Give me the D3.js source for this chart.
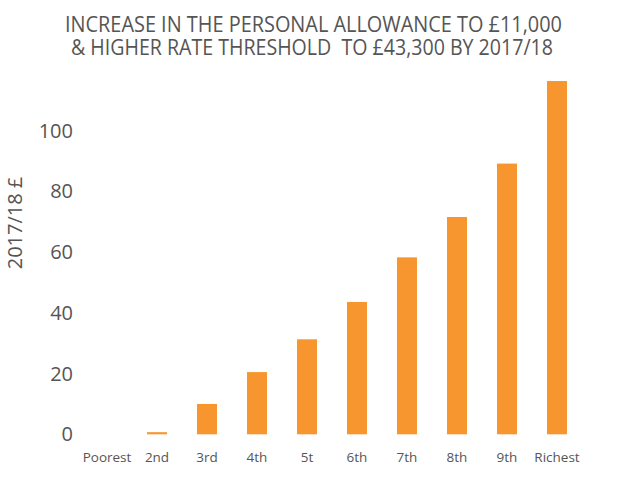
<!DOCTYPE html>
<html>
<head>
<meta charset="utf-8">
<script src="https://cdn.jsdelivr.net/npm/d3@7"></script>
<style>
  html, body { margin: 0; padding: 0; background: #ffffff; }
  svg { display: block; }
  svg text { font-family: "Open Sans", "Noto Sans", sans-serif; }
</style>
</head>
<body>
<svg id="chart" width="640" height="488"></svg>
<script>
const categories = ["Poorest", "2nd", "3rd", "4th", "5t", "6th", "7th", "8th", "9th", "Richest"];
const values = [0, 0.7, 10, 20.5, 31.3, 43.6, 58.3, 71.6, 89.2, 116.4];
const yTicks = [0, 20, 40, 60, 80, 100];
const titleLines = ["INCREASE IN THE PERSONAL ALLOWANCE TO £11,000", "& HIGHER RATE THRESHOLD  TO £43,300 BY 2017/18"];
const yTitle = "2017/18 £";

const svg = d3.select("#chart");
const textColor = "#555555";
const barColor = "#F7962F";
const font = "'Open Sans', 'Noto Sans', sans-serif";

const x = d3.scaleBand().domain(categories).range([82, 582]).paddingInner(0.6).paddingOuter(0.3);
const y = d3.scaleLinear().domain([0, 100]).range([434.3, 130.8]);

// Title
const titleSpecs = [{ x: 65, w: 497, y: 31.7 }, { x: 71, w: 482, y: 55 }];
svg.append("g").selectAll("text").data(titleLines).join("text")
  .attr("x", (d, i) => titleSpecs[i].x)
  .attr("y", (d, i) => titleSpecs[i].y)
  .attr("textLength", (d, i) => titleSpecs[i].w)
  .attr("lengthAdjust", "spacingAndGlyphs")
  .attr("font-size", 21)
  .attr("font-family", font)
  .attr("fill", textColor)
  .style("white-space", "pre")
  .text(d => d);

// Bars
svg.append("g").selectAll("rect").data(values).join("rect")
  .attr("x", (d, i) => x(categories[i]))
  .attr("width", x.bandwidth())
  .attr("y", d => y(d))
  .attr("height", d => y(0) - y(d))
  .attr("fill", barColor);

// Y axis
const yAxis = svg.append("g")
  .attr("transform", "translate(73,0)")
  .call(d3.axisLeft(y).tickValues(yTicks).tickSize(0).tickPadding(0));
yAxis.attr("font-family", font).attr("font-size", 20);
yAxis.select(".domain").remove();
yAxis.selectAll("text").attr("fill", textColor);

// X axis
const xAxis = svg.append("g")
  .attr("transform", "translate(0,434.3)")
  .call(d3.axisBottom(x).tickSize(0).tickPadding(18.5));
xAxis.attr("font-family", font).attr("font-size", 13.5);
xAxis.select(".domain").remove();
xAxis.selectAll("text").attr("fill", textColor);

// Y title
svg.append("text")
  .attr("transform", "translate(22,223) rotate(-90)")
  .attr("text-anchor", "middle")
  .attr("font-size", 20)
  .attr("font-family", font)
  .attr("fill", textColor)
  .text(yTitle);
</script>
</body>
</html>
